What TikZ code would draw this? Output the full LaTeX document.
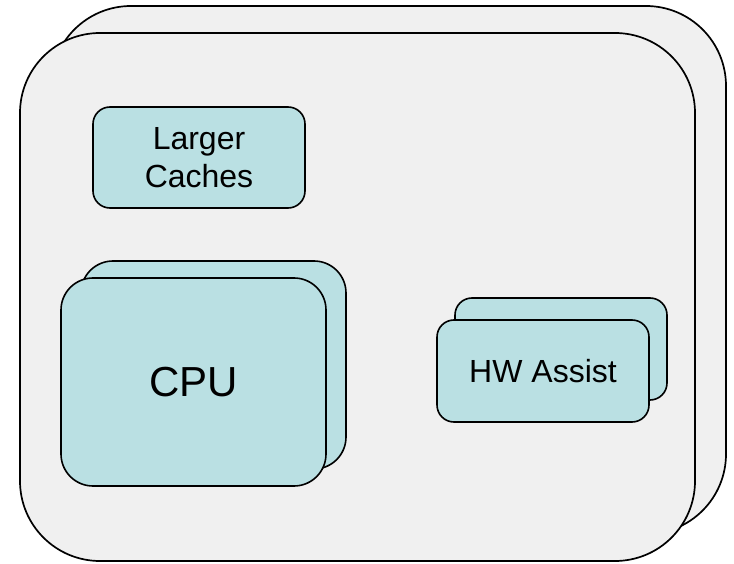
\documentclass[tikz,border=0pt]{standalone}
\usepackage{fontspec}
\setmainfont{Liberation Sans}
\definecolor{boxfill}{HTML}{BAE0E3}
\definecolor{panel}{HTML}{F0F0F0}
\begin{document}
\begin{tikzpicture}[x=1pt,y=-1pt,
  panelbox/.style={draw=black, line width=1.7pt, fill=panel, rounded corners=80pt, inner sep=0pt},
  unitbox/.style={draw=black, line width=1.6pt, fill=boxfill, inner sep=0pt, align=center},
  midtext/.style={font=\fontsize{32}{37.5}\selectfont},
  bigtext/.style={font=\fontsize{42}{48}\selectfont}
]
\useasboundingbox (0,0) rectangle (734,564);
% chassis panels
\node[panelbox, minimum width=675pt, minimum height=528pt] (backpanel) at (388.5,270) {};
\node[panelbox, minimum width=675pt, minimum height=528pt] (frontpanel) at (357.5,297) {};
% larger caches
\node[unitbox, rounded corners=17pt, minimum width=212pt, minimum height=101pt, midtext] (caches) at (199,157.5) {Larger\\Caches};
% CPU
\node[unitbox, rounded corners=32pt, minimum width=265pt, minimum height=208pt] (cpuback) at (213.5,365) {};
\node[unitbox, rounded corners=32pt, minimum width=265pt, minimum height=208pt, bigtext] (cpu) at (193.5,382) {CPU};
% HW assist
\node[unitbox, rounded corners=17pt, minimum width=212pt, minimum height=102pt] (hwback) at (561,349) {};
\node[unitbox, rounded corners=17pt, minimum width=212pt, minimum height=102pt, midtext] (hw) at (543,371) {HW Assist};
\end{tikzpicture}
\end{document}
